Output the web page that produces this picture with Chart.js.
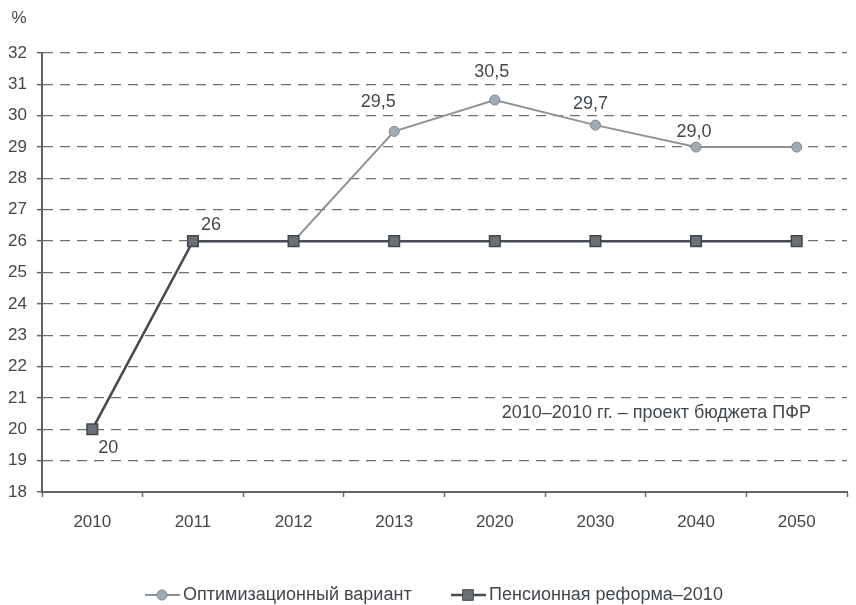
<!DOCTYPE html>
<html>
<head>
<meta charset="utf-8">
<script src="https://cdn.jsdelivr.net/npm/chart.js@4"></script>
<style>
  html, body { margin: 0; padding: 0; background: #ffffff; }
  #wrap { width: 856px; height: 605px; position: relative; }
</style>
</head>
<body>
<div id="wrap"><canvas id="chart"></canvas></div>
<script>
// chart data
const years = ['2010', '2011', '2012', '2013', '2020', '2030', '2040', '2050'];
const optimValues = [20, 26, 26, 29.5, 30.5, 29.7, 29.0, 29.0];
const reformValues = [20, 26, 26, 26, 26, 26, 26, 26];
const optimLabels = [null, null, null, '29,5', '30,5', '29,7', '29,0', null];
const reformLabels = ['20', '26', null, null, null, null, null, null];
const seriesNames = ['Оптимизационный вариант', 'Пенсионная реформа–2010'];
const noteText = '2010–2010 гг. – проект бюджета ПФР';

const FONT = '"Liberation Sans", Arial, sans-serif';
const TEXT = '#42474d';

// offsets of value labels from their point (px)
const optimOffsets = [null, null, null, [-16, -29], [-3, -28], [-5, -21], [-2, -15], null];
const reformOffsets = [[16, 19], [18, -16], null, null, null, null, null, null];

const extrasPlugin = {
  id: 'extras',
  afterDatasetsDraw(chart) {
    const ctx = chart.ctx;
    ctx.save();
    ctx.fillStyle = TEXT;
    ctx.font = '18px ' + FONT;
    ctx.textAlign = 'center';
    ctx.textBaseline = 'middle';
    const drawLabels = (meta, texts, offs) => {
      meta.data.forEach((pt, i) => {
        if (!texts[i]) return;
        ctx.fillText(texts[i], pt.x + offs[i][0], pt.y + offs[i][1]);
      });
    };
    drawLabels(chart.getDatasetMeta(0), optimLabels, optimOffsets);
    drawLabels(chart.getDatasetMeta(1), reformLabels, reformOffsets);

    // unit label
    ctx.font = '17px ' + FONT;
    ctx.fillText('%', 19, 18);

    // note
    ctx.font = '18px ' + FONT;
    ctx.textAlign = 'right';
    ctx.fillText(noteText, 811, 413);

    // legend
    const ds = chart.data.datasets;
    const items = [{ x: 145, ds: ds[0] }, { x: 451, ds: ds[1] }];
    const ly = 595;
    items.forEach(it => {
      ctx.strokeStyle = it.ds.borderColor;
      ctx.lineWidth = it.ds.borderWidth;
      ctx.beginPath();
      ctx.moveTo(it.x, ly);
      ctx.lineTo(it.x + 35, ly);
      ctx.stroke();
      ctx.fillStyle = it.ds.pointBackgroundColor;
      ctx.strokeStyle = it.ds.pointBorderColor;
      ctx.lineWidth = 1;
      ctx.beginPath();
      if (it.ds.pointStyle === 'circle') {
        ctx.arc(it.x + 17, ly, it.ds.pointRadius, 0, Math.PI * 2);
      } else {
        const s = it.ds.pointRadius * Math.SQRT1_2;
        ctx.rect(it.x + 17 - s, ly - s, 2 * s, 2 * s);
      }
      ctx.fill();
      ctx.stroke();
      ctx.fillStyle = TEXT;
      ctx.font = '18px ' + FONT;
      ctx.textAlign = 'left';
      ctx.fillText(it.ds.label, it.x + 38, ly);
    });
    ctx.restore();
  }
};

const ctx = document.getElementById('chart').getContext('2d');
new Chart(ctx, {
  type: 'line',
  data: {
    labels: years,
    datasets: [
      {
        label: seriesNames[0],
        data: optimValues,
        borderColor: '#8c939a',
        borderWidth: 2,
        pointStyle: 'circle',
        pointRadius: 5,
        pointBackgroundColor: '#a3aab1',
        pointBorderColor: '#7d848b',
        pointBorderWidth: 1,
        tension: 0,
        order: 2
      },
      {
        label: seriesNames[1],
        data: reformValues,
        borderColor: '#474c52',
        borderWidth: 2.5,
        pointStyle: 'rect',
        pointRadius: 7.5,
        pointBackgroundColor: '#6a7076',
        pointBorderColor: '#42474d',
        pointBorderWidth: 1.5,
        tension: 0,
        order: 1
      }
    ]
  },
  options: {
    responsive: true,
    maintainAspectRatio: false,
    animation: false,
    layout: { padding: { top: 53, right: 0, bottom: 0, left: 0 } },
    plugins: {
      legend: { display: false },
      tooltip: { enabled: false }
    },
    scales: {
      x: {
        offset: true,
        grid: {
          offset: true,
          drawOnChartArea: false,
          drawTicks: true,
          tickLength: 5,
          tickColor: '#6b7075',
          tickWidth: 1.5
        },
        border: { color: '#5f6469', width: 2 },
        ticks: {
          color: TEXT,
          font: { family: FONT, size: 17 },
          padding: 15,
          maxRotation: 0
        },
        afterFit(scale) { scale.height = 113; }
      },
      y: {
        min: 18,
        max: 32,
        ticks: {
          stepSize: 1,
          color: TEXT,
          font: { family: FONT, size: 17 },
          padding: 10
        },
        grid: {
          color: '#6b7075',
          lineWidth: 1.3,
          tickLength: 5,
          tickColor: '#5f6469',
          tickWidth: 1.5
        },
        border: { color: '#5f6469', width: 2, dash: [10, 7] },
        afterFit(scale) { scale.width = 42; }
      }
    }
  },
  plugins: [extrasPlugin]
});
</script>
</body>
</html>
